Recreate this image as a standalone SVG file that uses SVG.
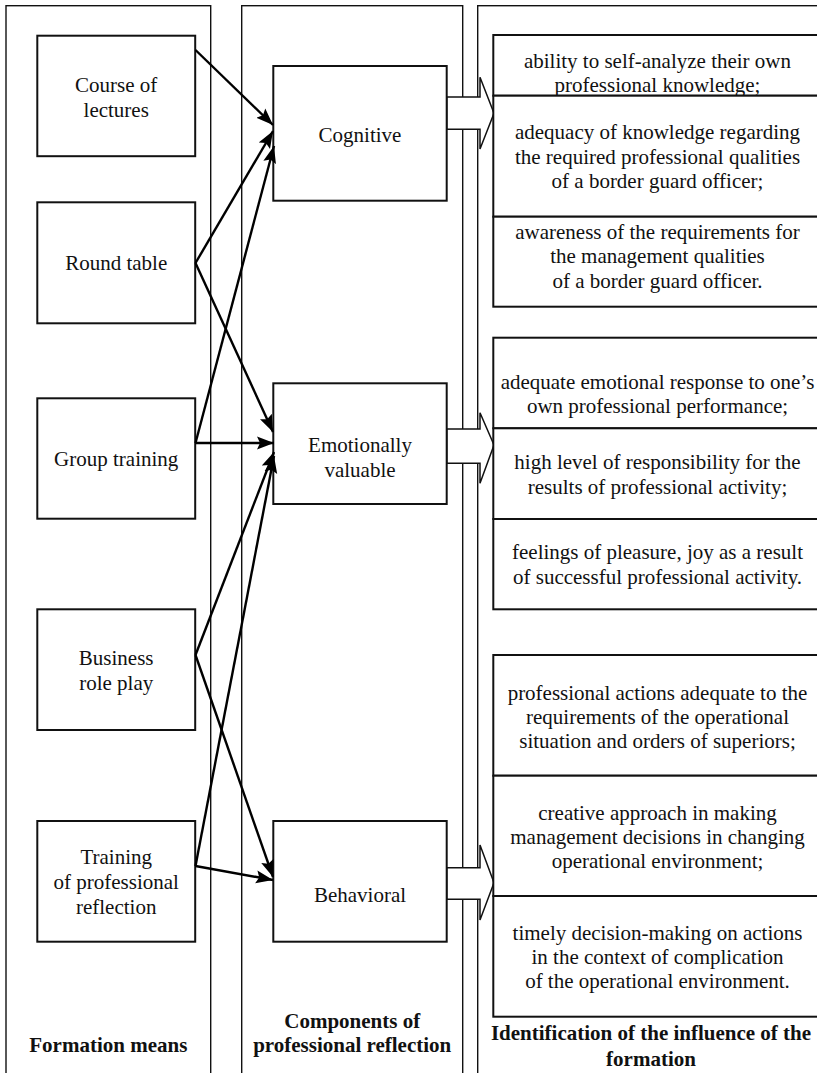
<svg xmlns="http://www.w3.org/2000/svg" width="817" height="1073" viewBox="0 0 817 1073">
<defs>
<style>
.col{fill:none;stroke:#111;stroke-width:1.4}
.box{fill:#fff;stroke:#111;stroke-width:2}
.blk{fill:#fff;stroke:#111;stroke-width:1.5}
.t{font-family:"Liberation Serif","Times New Roman",serif;font-size:21px;fill:#111;text-anchor:middle}
.h{font-family:"Liberation Serif","Times New Roman",serif;font-size:21px;font-weight:bold;fill:#111;text-anchor:middle}
.c{fill:none;stroke:#000;stroke-width:2.4;marker-end:url(#ah)}
</style>
<marker id="ah" markerUnits="userSpaceOnUse" markerWidth="18" markerHeight="14" refX="17" refY="7" orient="auto">
<path d="M0,0.5 L17,7 L0,13.5 L3,7 z" fill="#000"/>
</marker>
</defs>
<rect width="817" height="1073" fill="#fff"/>
<g id="columns">
<rect class="col" x="6" y="5.7" width="204.7" height="1080"/>
<rect class="col" x="241.7" y="5.7" width="221" height="1080"/>
<rect class="col" x="477.7" y="5.7" width="347" height="1080"/>
</g>
<g id="block-arrows">
<path class="blk" d="M446.7,97 L480,97 L480,77.3 L494,113.3 L480,149 L480,129.3 L446.7,129.3 z"/>
<path class="blk" d="M446.7,429 L480,429 L480,412.7 L494,445 L480,483.3 L480,463.3 L446.7,463.3 z"/>
<path class="blk" d="M446.7,867.7 L480,867.7 L480,845 L494,882.7 L480,920 L480,899.3 L446.7,899.3 z"/>
</g>
<g id="n-lectures"><rect class="box" x="37.3" y="35.7" width="157.9" height="120.5"/><text class="t" x="116.2" y="91.5">Course of</text><text class="t" x="116.2" y="116.5">lectures</text></g>
<g id="n-roundtable"><rect class="box" x="37.3" y="202.3" width="157.9" height="121"/><text class="t" x="116.2" y="270">Round table</text></g>
<g id="n-grouptraining"><rect class="box" x="37.3" y="398.3" width="157.9" height="120.4"/><text class="t" x="116.2" y="466">Group training</text></g>
<g id="n-business"><rect class="box" x="37.3" y="609.3" width="157.9" height="120.7"/><text class="t" x="116.2" y="665">Business</text><text class="t" x="116.2" y="690">role play</text></g>
<g id="n-training"><rect class="box" x="37.3" y="821" width="157.9" height="120.7"/><text class="t" x="116.2" y="864">Training</text><text class="t" x="116.2" y="889">of professional</text><text class="t" x="116.2" y="914">reflection</text></g>
<g id="n-cognitive"><rect class="box" x="273.3" y="66" width="173.4" height="134.7"/><text class="t" x="360" y="141.7">Cognitive</text></g>
<g id="n-emotional"><rect class="box" x="273.3" y="383.3" width="173.4" height="120.7"/><text class="t" x="360" y="451.7">Emotionally</text><text class="t" x="360" y="476.7">valuable</text></g>
<g id="n-behavioral"><rect class="box" x="273.3" y="821" width="173.4" height="120.7"/><text class="t" x="360" y="901.5">Behavioral</text></g>
<g id="n-cog-results">
<rect class="box" x="493.3" y="35" width="328.4" height="60.7"/>
<text class="t" x="657.5" y="68.3">ability to self-analyze their own</text><text class="t" x="657.5" y="91.5">professional knowledge;</text>
<rect class="box" x="493.3" y="95.7" width="328.4" height="121"/>
<text class="t" x="657.5" y="139.3">adequacy of knowledge regarding</text><text class="t" x="657.5" y="163.5">the required professional qualities</text><text class="t" x="657.5" y="188">of a border guard officer;</text>
<rect class="box" x="493.3" y="216.7" width="328.4" height="90"/>
<text class="t" x="657.5" y="238.5">awareness of the requirements for</text><text class="t" x="657.5" y="263">the management qualities</text><text class="t" x="657.5" y="287.5">of a border guard officer.</text>
</g>
<g id="n-emo-results">
<rect class="box" x="493.3" y="337.7" width="328.4" height="90.6"/>
<text class="t" x="657.5" y="388.5">adequate emotional response to one’s</text><text class="t" x="657.5" y="413.3">own professional performance;</text>
<rect class="box" x="493.3" y="428.3" width="328.4" height="90.7"/>
<text class="t" x="657.5" y="469.3">high level of responsibility for the</text><text class="t" x="657.5" y="494">results of professional activity;</text>
<rect class="box" x="493.3" y="519" width="328.4" height="90.3"/>
<text class="t" x="657.5" y="559">feelings of pleasure, joy as a result</text><text class="t" x="657.5" y="583.5">of successful professional activity.</text>
</g>
<g id="n-beh-results">
<rect class="box" x="493.3" y="655" width="328.4" height="120.7"/>
<text class="t" x="657.5" y="700">professional actions adequate to the</text><text class="t" x="657.5" y="723.5">requirements of the operational</text><text class="t" x="657.5" y="747.5">situation and orders of superiors;</text>
<rect class="box" x="493.3" y="775.7" width="328.4" height="120.3"/>
<text class="t" x="657.5" y="820">creative approach in making</text><text class="t" x="657.5" y="843.5">management decisions in changing</text><text class="t" x="657.5" y="868">operational environment;</text>
<rect class="box" x="493.3" y="896" width="328.4" height="120.7"/>
<text class="t" x="657.5" y="940">timely decision-making on actions</text><text class="t" x="657.5" y="963.5">in the context of complication</text><text class="t" x="657.5" y="988">of the operational environment.</text>
</g>
<g id="headings">
<text class="h" x="108.3" y="1052.3">Formation means</text>
<text class="h" x="352.2" y="1028.3">Components of</text>
<text class="h" x="352.2" y="1052.3">professional reflection</text>
<text class="h" x="651" y="1040">Identification of the influence of the</text>
<text class="h" x="651" y="1065.5">formation</text>
</g>
<g id="connectors">
<line class="c" x1="195.5" y1="50" x2="273" y2="125"/>
<line class="c" x1="195.5" y1="263" x2="273" y2="131"/>
<line class="c" x1="195.5" y1="443" x2="274" y2="146"/>
<line class="c" x1="195.5" y1="263" x2="273" y2="432"/>
<line class="c" x1="195.5" y1="443" x2="274" y2="443"/>
<line class="c" x1="195.5" y1="655" x2="274" y2="452"/>
<line class="c" x1="195.5" y1="866" x2="274" y2="456"/>
<line class="c" x1="195.5" y1="655" x2="273" y2="877"/>
<line class="c" x1="195.5" y1="866" x2="273" y2="880"/>
</g>
</svg>
